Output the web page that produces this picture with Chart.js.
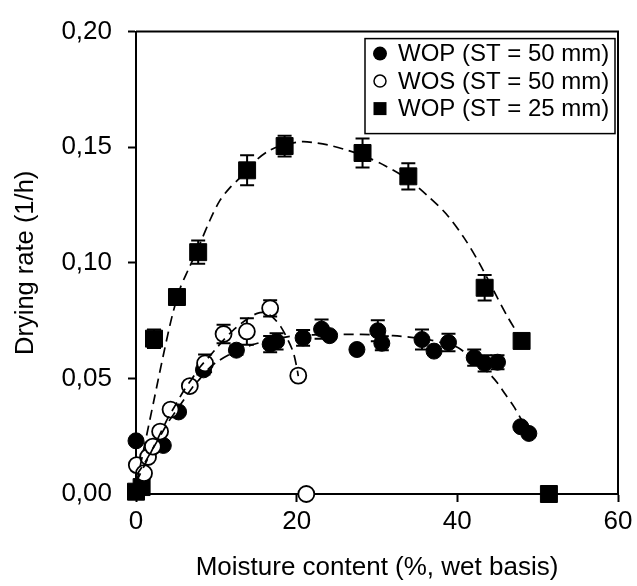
<!DOCTYPE html>
<html>
<head>
<meta charset="utf-8">
<script src="https://cdn.jsdelivr.net/npm/chart.js@4.4.0/dist/chart.umd.min.js"></script>
<style>
  body { margin: 0; background: #fff; }
</style>
</head>
<body>
<canvas id="dryingChart" width="637" height="586"></canvas>
<script>
  const seriesNames = ["WOP (ST = 50 mm)", "WOS (ST = 50 mm)", "WOP (ST = 25 mm)"];
  const xTickLabels = ["0", "20", "40", "60"];
  const yTickLabels = ["0,00", "0,05", "0,10", "0,15", "0,20"];

  // WOP, 50 mm (filled circles)
  const wop50X = [0, 3.4, 5.3, 8.4, 12.5, 16.7, 17.5, 20.8, 23.1, 24.1, 27.5, 30.1, 30.6, 35.6, 37.1, 38.9, 42.1, 43.4, 45.0, 47.9, 48.9];
  const wop50Y = [0.023, 0.021, 0.0355, 0.0537, 0.0622, 0.0648, 0.066, 0.0675, 0.0713, 0.0685, 0.0625, 0.0706, 0.0652, 0.0668, 0.0618, 0.0655, 0.059, 0.0565, 0.057, 0.0291, 0.0262];
  const wop50Err = [0, 0, 0, 0.002, 0.002, 0.0035, 0.0035, 0.0034, 0.0042, 0, 0, 0.0045, 0.003, 0.0043, 0, 0.0038, 0.0035, 0.0035, 0.003, 0, 0];

  // WOS, 50 mm (open circles)
  const wosX = [0.1, 1.0, 1.5, 2.1, 3.0, 4.3, 6.7, 8.6, 10.9, 13.8, 16.7, 20.2, 21.2];
  const wosY = [0.0125, 0.009, 0.016, 0.0205, 0.027, 0.0365, 0.0467, 0.0565, 0.0692, 0.0703, 0.0803, 0.0512, 0];
  const wosErr = [0, 0, 0, 0, 0, 0, 0, 0.0038, 0.004, 0.0057, 0.0035, 0, 0];

  // WOP, 25 mm (squares)
  const wop25X = [0, 0.7, 2.24, 5.1, 7.74, 13.83, 18.5, 28.2, 33.9, 43.4, 48.0, 51.4];
  const wop25Y = [0.001, 0.003, 0.0672, 0.0852, 0.1046, 0.140, 0.1505, 0.1475, 0.1374, 0.0892, 0.0662, 0];
  const wop25Err = [0, 0, 0.004, 0.003, 0.005, 0.0065, 0.0045, 0.0063, 0.0057, 0.0055, 0.003, 0];

  // dashed fitted curves
  const wop50FitX = [0, 1, 2, 3, 4, 5, 6, 7, 8, 9, 10, 12, 14, 16, 18, 20, 24, 28, 32, 36, 38, 40, 41, 42, 43, 44, 45, 46, 47, 48, 48.7];
  const wop50FitY = [0.008, 0.013, 0.019, 0.025, 0.031, 0.036, 0.041, 0.046, 0.050, 0.054, 0.057, 0.061, 0.064, 0.066, 0.0675, 0.0685, 0.069, 0.069, 0.0685, 0.067, 0.0655, 0.0635, 0.061, 0.058, 0.055, 0.052, 0.048, 0.043, 0.038, 0.032, 0.028];
  const wosFitX = [0, 1, 2, 3, 4, 5, 6, 7, 8, 9, 10, 11, 12, 13, 14, 15, 16, 17, 18, 19, 19.6, 20, 20.2];
  const wosFitY = [0.005, 0.012, 0.019, 0.026, 0.033, 0.039, 0.045, 0.050, 0.055, 0.059, 0.063, 0.067, 0.0705, 0.0735, 0.076, 0.078, 0.0785, 0.0765, 0.0725, 0.066, 0.061, 0.055, 0.051];
  const wop25FitX = [0.1, 1, 2.2, 3.4, 4.5, 5.5, 6.5, 7.3, 8, 9.2, 10.45, 11.7, 13, 14.5, 16.6, 18.5, 20.7, 22.5, 24.1, 26, 28.2, 31, 33.9, 36.3, 38.6, 40.8, 42.7, 44.8, 46.2, 47.3, 48];
  const wop25FitY = [0.005, 0.02, 0.040, 0.060, 0.077, 0.089, 0.097, 0.103, 0.1086, 0.1184, 0.127, 0.1325, 0.137, 0.143, 0.1486, 0.151, 0.1524, 0.1518, 0.1508, 0.149, 0.1465, 0.142, 0.136, 0.129, 0.1212, 0.111, 0.1001, 0.0861, 0.077, 0.0706, 0.0668];

  const FONT = "'Liberation Sans', Arial, sans-serif";
  Chart.defaults.font.family = FONT;
  Chart.defaults.color = "#000";

  const pts = (xs, ys) => xs.map((x, i) => ({ x: x, y: ys[i] }));

  const errorBars = {
    id: "errorBars",
    beforeDatasetsDraw(chart) {
      const { ctx, scales: { x, y } } = chart;
      ctx.save();
      ctx.strokeStyle = "#000";
      ctx.lineWidth = 2;
      chart.data.datasets.forEach((ds) => {
        if (!ds.errors) return;
        ds.data.forEach((p, i) => {
          const e = ds.errors[i];
          if (!e) return;
          const px = x.getPixelForValue(p.x);
          const top = y.getPixelForValue(p.y + e);
          const bot = y.getPixelForValue(p.y - e);
          ctx.beginPath();
          ctx.moveTo(px, top); ctx.lineTo(px, bot);
          ctx.moveTo(px - 7, top); ctx.lineTo(px + 7, top);
          ctx.moveTo(px - 7, bot); ctx.lineTo(px + 7, bot);
          ctx.stroke();
        });
      });
      ctx.restore();
    },
  };

  const frame = {
    id: "frame",
    beforeDatasetsDraw(chart) {
      const { ctx, chartArea: a } = chart;
      ctx.save();
      ctx.strokeStyle = "#000";
      ctx.lineWidth = 2;
      ctx.beginPath();
      ctx.moveTo(a.left, a.top);
      ctx.lineTo(a.right, a.top);
      ctx.lineTo(a.right, a.bottom);
      ctx.stroke();
      ctx.restore();
    },
  };

  const boxLegend = {
    id: "boxLegend",
    afterDraw(chart) {
      const { ctx, chartArea: a } = chart;
      const right = a.right - 3, top = a.top + 7;
      const w = 250, h = 95;
      ctx.save();
      ctx.fillStyle = "#fff";
      ctx.fillRect(right - w, top, w, h);
      ctx.strokeStyle = "#000";
      ctx.lineWidth = 1.5;
      ctx.strokeRect(right - w, top, w, h);
      ctx.font = "24px " + FONT;
      ctx.textBaseline = "middle";
      ctx.textAlign = "left";
      seriesNames.forEach((name, i) => {
        const cy = top + 15 + i * 27.5;
        const mx = right - w + 15;
        ctx.fillStyle = "#000";
        ctx.strokeStyle = "#000";
        ctx.beginPath();
        if (i === 0) {
          ctx.arc(mx, cy, 7, 0, Math.PI * 2);
          ctx.fill();
        } else if (i === 1) {
          ctx.lineWidth = 1.5;
          ctx.arc(mx, cy, 6, 0, Math.PI * 2);
          ctx.stroke();
        } else {
          ctx.fillRect(mx - 6.5, cy - 6.5, 13, 13);
        }
        ctx.fillText(name, right - w + 33, cy + 1);
      });
      ctx.restore();
    },
  };

  const fitStyle = {
    type: "line",
    showLine: true,
    borderColor: "#000",
    borderWidth: 1.7,
    borderDash: [10, 6],
    pointRadius: 0,
    fill: false,
    tension: 0.3,
    order: 0,
    clip: false,
  };

  new Chart(document.getElementById("dryingChart"), {
    type: "scatter",
    data: {
      datasets: [
        {
          label: seriesNames[0],
          data: pts(wop50X, wop50Y),
          errors: wop50Err,
          pointStyle: "circle",
          pointRadius: 8,
          backgroundColor: "#000",
          borderColor: "#000",
          borderWidth: 1,
          order: 2,
          clip: false,
        },
        {
          label: seriesNames[1],
          data: pts(wosX, wosY),
          errors: wosErr,
          pointStyle: "circle",
          pointRadius: 8,
          backgroundColor: "#fff",
          borderColor: "#000",
          borderWidth: 1.8,
          order: 1,
          clip: false,
        },
        {
          label: seriesNames[2],
          data: pts(wop25X, wop25Y),
          errors: wop25Err,
          pointStyle: "rect",
          pointRadius: 12,
          backgroundColor: "#000",
          borderColor: "#000",
          borderWidth: 1,
          order: 3,
          clip: false,
        },
        Object.assign({ label: "fit1", data: pts(wop50FitX, wop50FitY) }, fitStyle),
        Object.assign({ label: "fit2", data: pts(wosFitX, wosFitY) }, fitStyle),
        Object.assign({ label: "fit3", data: pts(wop25FitX, wop25FitY) }, fitStyle),
      ],
    },
    options: {
      responsive: false,
      animation: false,
      devicePixelRatio: 1,
      layout: { padding: { left: 0, right: 19, top: 20, bottom: 0 } },
      plugins: {
        legend: { display: false },
        tooltip: { enabled: false },
      },
      scales: {
        x: {
          type: "linear",
          min: 0,
          max: 60,
          afterFit: (s) => { s.height = 92; },
          ticks: {
            stepSize: 20,
            padding: 4,
            font: { size: 26 },
            color: "#000",
            callback: (v, i) => xTickLabels[i],
          },
          grid: { drawOnChartArea: false, drawTicks: true, tickLength: 8, tickColor: "#000", tickWidth: 2 },
          border: { display: true, color: "#000", width: 2 },
          title: {
            display: true,
            text: "Moisture content (%, wet basis)",
            font: { size: 26 },
            color: "#000",
            padding: { top: 0, bottom: 3 },
          },
        },
        y: {
          type: "linear",
          min: 0,
          max: 0.2,
          afterFit: (s) => { s.width = 136; },
          ticks: {
            stepSize: 0.05,
            padding: 16,
            font: { size: 26 },
            color: "#000",
            callback: (v, i) => yTickLabels[i],
          },
          grid: { drawOnChartArea: false, drawTicks: true, tickLength: 8, tickColor: "#000", tickWidth: 2 },
          border: { display: true, color: "#000", width: 2 },
          title: {
            display: true,
            text: "Drying rate (1/h)",
            font: { size: 25.5 },
            color: "#000",
            padding: { top: 11, bottom: 0 },
          },
        },
      },
    },
    plugins: [errorBars, frame, boxLegend],
  });
</script>
</body>
</html>
